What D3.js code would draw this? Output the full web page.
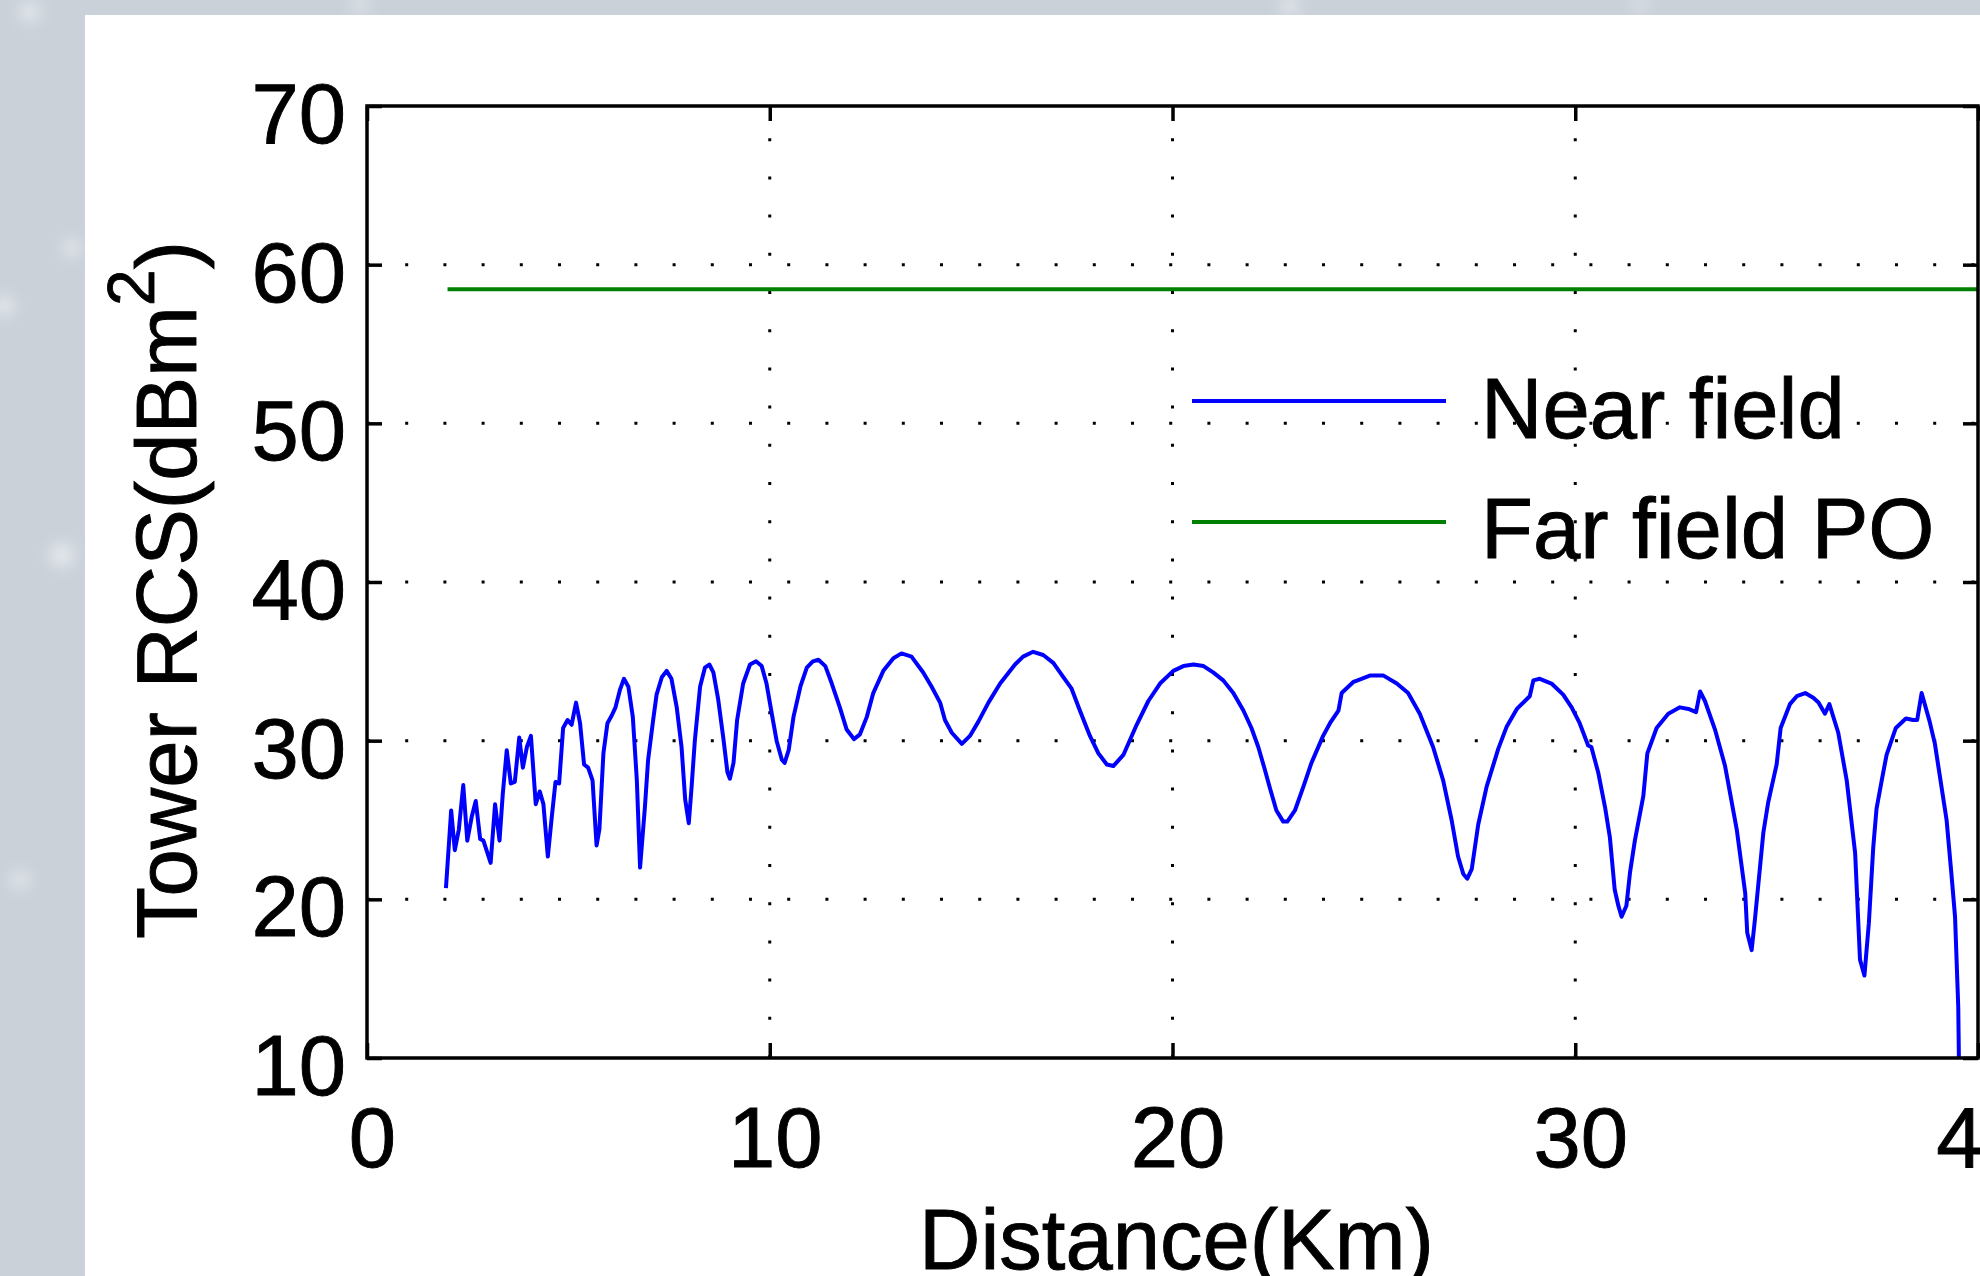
<!DOCTYPE html>
<html>
<head>
<meta charset="utf-8">
<script src="https://cdn.jsdelivr.net/npm/d3@7"></script>
<style>
  body { margin: 0; background: #cbd2da; overflow: hidden; }
  svg { display: block; }
  text { stroke: #000; stroke-width: 0.9px; }
</style>
</head>
<body>
<script>
// near field RCS (km, dBm^2)
const distance = [1.96, 2.09, 2.18, 2.28, 2.39, 2.49, 2.60, 2.70, 2.81, 2.89, 3.07, 3.18, 3.29, 3.37, 3.47, 3.57, 3.67, 3.78, 3.87, 3.97,
  4.07, 4.19, 4.29, 4.38, 4.49, 4.58, 4.68, 4.77, 4.87, 4.98, 5.08, 5.19, 5.29, 5.39, 5.49, 5.60, 5.70, 5.77, 5.87, 5.97,
  6.08, 6.17, 6.28, 6.38, 6.49, 6.60, 6.70, 6.78, 6.90, 6.98, 7.11, 7.19, 7.32, 7.44, 7.56, 7.69, 7.81, 7.90, 7.99, 8.06,
  8.14, 8.27, 8.39, 8.50, 8.60, 8.72, 8.85, 8.95, 9.01, 9.10, 9.19, 9.34, 9.51, 9.66, 9.80, 9.92, 10.05, 10.17, 10.30, 10.37,
  10.47, 10.59, 10.76, 10.92, 11.07, 11.21, 11.38, 11.54, 11.74, 11.91, 12.09, 12.24, 12.41, 12.57, 12.82, 13.07, 13.27, 13.52, 13.81, 14.02,
  14.23, 14.35, 14.52, 14.77, 14.97, 15.18, 15.43, 15.72, 16.09, 16.29, 16.54, 16.79, 17.04, 17.29, 17.49, 17.70, 17.95, 18.16, 18.37, 18.53,
  18.78, 19.11, 19.40, 19.69, 20.02, 20.27, 20.52, 20.77, 21.01, 21.26, 21.51, 21.76, 21.96, 22.13, 22.29, 22.42, 22.58, 22.75, 22.85, 23.04,
  23.25, 23.45, 23.74, 23.91, 24.12, 24.20, 24.49, 24.90, 25.24, 25.57, 25.85, 26.14, 26.47, 26.72, 26.93, 27.09, 27.22, 27.32, 27.43, 27.59,
  27.80, 28.09, 28.30, 28.55, 28.87, 28.96, 29.12, 29.41, 29.70, 29.91, 30.11, 30.32, 30.40, 30.57, 30.74, 30.86, 30.98, 31.07, 31.15, 31.27,
  31.36, 31.48, 31.69, 31.79, 32.02, 32.31, 32.60, 32.81, 33.00, 33.10, 33.22, 33.47, 33.72, 34.01, 34.22, 34.27, 34.38, 34.46, 34.67, 34.79,
  35.00, 35.10, 35.33, 35.50, 35.71, 35.91, 36.04, 36.20, 36.31, 36.53, 36.74, 36.95, 37.07, 37.18, 37.29, 37.40, 37.48, 37.61, 37.73, 37.96,
  38.21, 38.39, 38.49, 38.60, 38.80, 38.93, 39.22, 39.34, 39.43, 39.51, 39.55];
const nearField = [20.7, 25.6, 23.1, 24.4, 27.2, 23.7, 25.2, 26.2, 23.8, 23.7, 22.3, 26.0, 23.7, 26.6, 29.4, 27.3, 27.4, 30.2, 28.3, 29.6,
  30.3, 26.0, 26.8, 26.0, 22.7, 25.0, 27.4, 27.3, 30.8, 31.3, 31.0, 32.4, 31.1, 28.5, 28.3, 27.5, 23.4, 24.4, 29.2, 31.1,
  31.6, 32.1, 33.2, 33.9, 33.4, 31.5, 27.5, 22.0, 25.8, 28.8, 31.4, 32.9, 34.0, 34.4, 33.9, 32.1, 29.6, 26.3, 24.8, 27.1,
  30.0, 33.4, 34.6, 34.8, 34.3, 32.6, 30.1, 28.0, 27.6, 28.6, 31.3, 33.6, 34.8, 35.0, 34.7, 33.6, 31.7, 30.0, 28.8, 28.6,
  29.4, 31.5, 33.4, 34.6, 35.0, 35.1, 34.7, 33.6, 32.1, 30.7, 30.1, 30.4, 31.5, 33.0, 34.4, 35.2, 35.5, 35.3, 34.3, 33.4,
  32.4, 31.3, 30.5, 29.8, 30.3, 31.2, 32.4, 33.6, 34.8, 35.3, 35.6, 35.4, 34.9, 34.0, 33.3, 31.9, 30.3, 29.2, 28.5, 28.4,
  29.1, 31.0, 32.5, 33.6, 34.4, 34.7, 34.8, 34.7, 34.3, 33.8, 33.0, 31.9, 30.8, 29.6, 28.2, 27.0, 25.6, 24.9, 24.9, 25.6,
  27.1, 28.6, 30.3, 31.1, 31.9, 33.0, 33.7, 34.1, 34.1, 33.6, 33.0, 31.7, 29.6, 27.5, 25.0, 22.7, 21.6, 21.3, 21.9, 24.7,
  27.1, 29.5, 30.9, 32.0, 32.8, 33.8, 33.9, 33.6, 32.9, 32.1, 31.1, 29.7, 29.6, 28.0, 25.8, 23.9, 20.6, 19.6, 18.9, 19.6,
  21.7, 23.7, 26.5, 29.2, 30.8, 31.7, 32.1, 32.0, 31.8, 33.1, 32.5, 30.7, 28.4, 24.4, 20.4, 17.9, 16.8, 18.7, 24.2, 26.1,
  28.5, 30.8, 32.3, 32.8, 33.0, 32.7, 32.4, 31.7, 32.3, 30.5, 27.5, 22.9, 16.2, 15.2, 18.5, 23.3, 25.7, 27.5, 29.1, 30.8,
  31.4, 31.3, 31.3, 33.0, 31.2, 29.8, 25.0, 21.6, 18.9, 13.2, 5.0];

// far field physical optics, flat
const farDistance = [2, 40];
const farField = [58.45, 58.45];

const xTicks = [0, 10, 20, 30, 40];
const yTicks = [10, 20, 30, 40, 50, 60, 70];
const legendLabels = ["Near field", "Far field PO"];
const colors = ["#0000ff", "#008000"];

const width = 1980, height = 1276;
const margin = {top: 106, right: 2, bottom: 218, left: 367};
const font = "'Liberation Sans', Arial, Helvetica, sans-serif";
const fontSize = "85px";

const svg = d3.select("body").append("svg")
    .attr("width", width)
    .attr("height", height);

// blurry backdrop + white figure panel
const defs = svg.append("defs");
defs.append("filter").attr("id", "blur")
  .append("feGaussianBlur").attr("stdDeviation", 8);
defs.append("clipPath").attr("id", "plot")
  .append("rect")
    .attr("x", margin.left)
    .attr("y", margin.top)
    .attr("width", width - margin.right - margin.left)
    .attr("height", height - margin.bottom - margin.top);

svg.append("rect").attr("width", width).attr("height", height).attr("fill", "#cad1d9");
svg.append("g").attr("filter", "url(#blur)")
  .selectAll("circle")
  .data([[30, 12, 10], [72, 248, 9], [4, 306, 10], [62, 555, 12], [20, 880, 9], [360, 4, 8], [1290, 6, 9], [1640, 4, 7]])
  .join("circle")
    .attr("cx", d => d[0]).attr("cy", d => d[1]).attr("r", d => d[2])
    .attr("fill", "#eef1f4").attr("opacity", 0.8);
svg.append("rect")
    .attr("x", 85).attr("y", 15)
    .attr("width", width - 85).attr("height", height - 15)
    .attr("fill", "#ffffff");

const x = d3.scaleLinear()
    .domain([0, 40])
    .range([margin.left, width - margin.right]);

const y = d3.scaleLinear()
    .domain([10, 70])
    .range([height - margin.bottom, margin.top]);

// legend text sits under the grid dots, like the original
const legend = svg.append("g");
legendLabels.forEach((name, i) => {
  legend.append("line")
      .attr("x1", 1192).attr("x2", 1446)
      .attr("y1", 401 + i * 121).attr("y2", 401 + i * 121)
      .attr("stroke", colors[i])
      .attr("stroke-width", 4);
  legend.append("text")
      .attr("x", 1481)
      .attr("y", 438 + i * 120)
      .style("font-family", font)
      .style("font-size", fontSize)
      .text(name);
});

// dotted grid
const grid = svg.append("g")
    .attr("stroke", "#000")
    .attr("stroke-width", 3)
    .attr("stroke-dasharray", "3 35.2");
grid.selectAll(".gx")
  .data(xTicks.slice(1, -1))
  .join("line")
    .attr("x1", d => x(d)).attr("x2", d => x(d))
    .attr("y1", y(10)).attr("y2", y(70));
grid.selectAll(".gy")
  .data(yTicks.slice(1, -1))
  .join("line")
    .attr("x1", x(0)).attr("x2", x(40))
    .attr("y1", d => y(d)).attr("y2", d => y(d));

// curves
const line = d3.line()
    .x(d => x(d[0]))
    .y(d => y(d[1]));

svg.append("path")
    .datum(farDistance.map((d, i) => [d, farField[i]]))
    .attr("clip-path", "url(#plot)")
    .attr("fill", "none")
    .attr("stroke", colors[1])
    .attr("stroke-width", 4)
    .attr("d", line);

svg.append("path")
    .datum(distance.map((d, i) => [d, nearField[i]]))
    .attr("clip-path", "url(#plot)")
    .attr("fill", "none")
    .attr("stroke", colors[0])
    .attr("stroke-width", 4)
    .attr("stroke-linejoin", "round")
    .attr("d", line);

// axes, ticks pointing inwards on all four sides
const styleAxis = g => {
  g.select(".domain").remove();
  g.selectAll(".tick line").attr("stroke", "#000").attr("stroke-width", 3.5);
  g.selectAll("text")
      .attr("fill", "#000")
      .style("font-family", font)
      .style("font-size", fontSize);
};

svg.append("g")
    .attr("transform", `translate(0,${y(10)})`)
    .call(d3.axisBottom(x).tickValues(xTicks).tickSize(-15).tickPadding(49))
    .call(styleAxis)
    .selectAll("text").attr("dx", 5);

svg.append("g")
    .attr("transform", `translate(0,${y(70)})`)
    .call(d3.axisTop(x).tickValues(xTicks).tickSize(-15).tickFormat(""))
    .call(styleAxis);

svg.append("g")
    .attr("transform", `translate(${x(0)},0)`)
    .call(d3.axisLeft(y).tickValues(yTicks).tickSize(-15).tickPadding(21))
    .call(styleAxis)
    .selectAll("text").attr("dy", "0.43em");

svg.append("g")
    .attr("transform", `translate(${x(40)},0)`)
    .call(d3.axisRight(y).tickValues(yTicks).tickSize(-15).tickFormat(""))
    .call(styleAxis);

svg.append("rect")
    .attr("x", x(0)).attr("y", y(70))
    .attr("width", x(40) - x(0))
    .attr("height", y(10) - y(70))
    .attr("fill", "none")
    .attr("stroke", "#000")
    .attr("stroke-width", 3.5);

// axis titles
svg.append("text")
    .attr("x", (x(0) + x(40)) / 2 + 4)
    .attr("y", 1269)
    .attr("text-anchor", "middle")
    .style("font-family", font)
    .style("font-size", fontSize)
    .text("Distance(Km)");

const ylab = svg.append("text")
    .attr("transform", "translate(196,590) rotate(-90)")
    .attr("text-anchor", "middle")
    .style("font-family", font)
    .style("font-size", fontSize);
ylab.append("tspan").text("Tower RCS(dBm");
ylab.append("tspan").attr("dy", -42).style("font-size", "66px").text("2");
ylab.append("tspan").attr("dy", 42).text(")");
</script>
</body>
</html>
